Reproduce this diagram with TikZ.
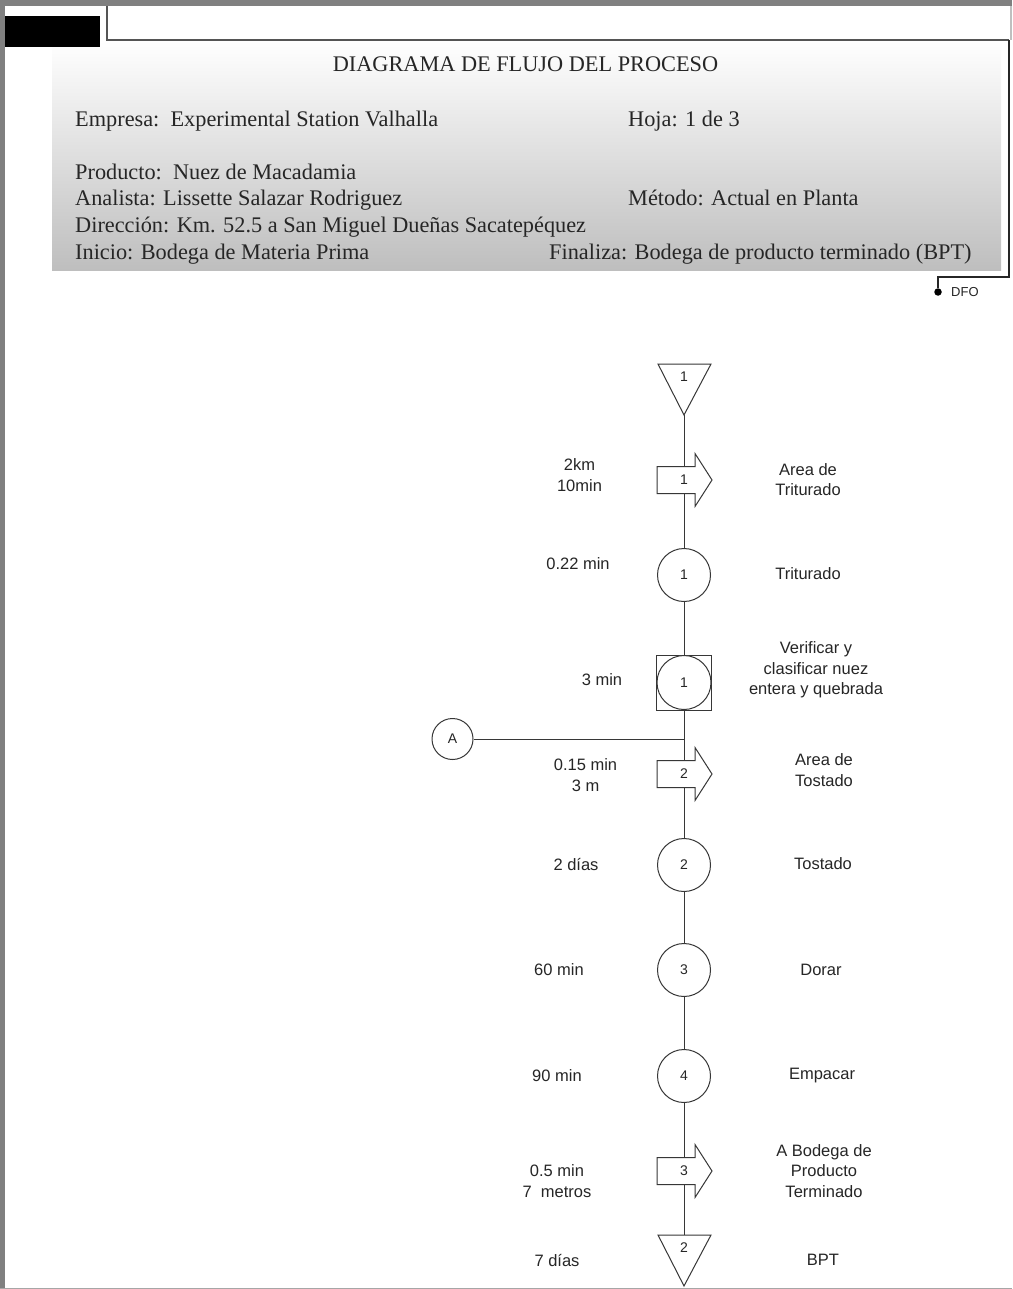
\documentclass[tikz,border=0pt]{standalone}
\usepackage{fontspec}
\setmainfont{Liberation Serif}
\newfontfamily\arialf{Liberation Sans}
\definecolor{hdrgray}{RGB}{190,190,190}
\definecolor{framegray}{RGB}{128,128,128}
\definecolor{linegray}{RGB}{55,55,55}
\definecolor{tabgray}{RGB}{85,85,85}
\begin{document}
\begin{tikzpicture}[x=1pt,y=-1pt,
  hdr/.style={anchor=base west, inner sep=0pt, text=black!85, font=\fontsize{22.3}{26}\selectfont},
  lbl/.style={align=center, inner sep=0pt, text=black!85, font=\arialf\fontsize{16.5}{20.5}\selectfont},
  num/.style={inner sep=0pt, text=black!85, font=\arialf\fontsize{14}{16}\selectfont},
  shp/.style={draw=linegray, line width=1pt, fill=white},
  conn/.style={draw=linegray, line width=1pt},
  opcirc/.style={shp, circle, minimum size=53pt, inner sep=0pt, text=black!85, font=\arialf\fontsize{14}{16}\selectfont},
  xfer/.pic={\path[shp] (-27,-13.5) -- (11,-13.5) -- (11,-26.5) -- (28,0) -- (11,26.5) -- (11,13.5) -- (-27,13.5) -- cycle;},
  store/.pic={\path[shp] (-26,0) -- (27,0) -- (0,51) -- cycle;}
]
\useasboundingbox (0,0) rectangle (1012,1289);
\fill[white] (0,0) rectangle (1012,1289);
% page frame
\fill[framegray] (0,0) rectangle (1012,6);
\fill[framegray] (0,0) rectangle (5,1289);
\fill[black!35] (0,1287.5) rectangle (1012,1289);
\fill[black!25] (1009.5,6) rectangle (1012,40);
% header
\shade[top color=white, bottom color=hdrgray] (52,41) rectangle (1001,270);
\fill[black] (5,16) rectangle (100,47);
\draw[tabgray, line width=1.3pt] (107,6) -- (107,40) -- (1009,40);
\coordinate (dfoA) at (1009,40);
\coordinate (dfoB) at (938,277);
\node[circle, fill=black, inner sep=0pt, minimum size=7.5pt] (dot) at (938,292) {};
\draw[black!85, line width=1.3pt] (dfoA) |- (dfoB) -- (dot);
\node[anchor=west, inner sep=0pt, text=black!85, font=\arialf\fontsize{13}{15}\selectfont] (dfo) at (951,292.5) {DFO};
\node[hdr, anchor=base] (title) at (525.5,72) {DIAGRAMA DE FLUJO DEL PROCESO};
\node[hdr] (emp) at (75,127) {Empresa:\ \ Experimental Station Valhalla};
\node[hdr] (hoja) at (628,127) {Hoja: 1 de 3};
\node[hdr] (prod) at (75,180) {Producto:\ \ Nuez de Macadamia};
\node[hdr] (anal) at (75,206) {Analista: Lissette Salazar Rodriguez};
\node[hdr] (met) at (628,206) {Método: Actual en Planta};
\node[hdr] (dir) at (75,233) {Dirección: Km. 52.5 a San Miguel Dueñas Sacatepéquez};
\node[hdr] (ini) at (75,259) {Inicio: Bodega de Materia Prima};
\node[hdr] (fin) at (549,259) {Finaliza: Bodega de producto terminado (BPT)};
% spine
\coordinate (t1apex) at (684,415);
\coordinate (t2top) at (684,1235);
\draw[conn] (t1apex) -- (t2top);
% A connector
\node[shp, circle, minimum size=41pt, inner sep=0pt, text=black!85, font=\arialf\fontsize{14}{16}\selectfont] (A) at (452.5,739) {A};
\coordinate (jA) at (684,739);
\draw[conn] (A) -- (jA);
% shapes
\pic at (684,364) {store};
\node[num] (t1) at (684,377) {1};
\pic at (684,480) {xfer};
\node[num] (a1) at (684,480) {1};
\node[opcirc] (o1) at (684,575) {1};
\path[shp] (656.5,655) rectangle (711.5,710);
\node[opcirc, minimum size=54pt] (c1) at (684,682.5) {1};
\pic at (684,774) {xfer};
\node[num] (a2) at (684,774) {2};
\node[opcirc] (o2) at (684,865) {2};
\node[opcirc] (o3) at (684,970) {3};
\node[opcirc] (o4) at (684,1076) {4};
\pic at (684,1171) {xfer};
\node[num] (a3) at (684,1171) {3};
\pic at (684,1235) {store};
\node[num] (t2) at (684,1248) {2};
% left labels
\node[lbl] (l1) at (579.5,475) {2km\\10min};
\node[lbl] (l2) at (578,564) {0.22 min};
\node[lbl] (l3) at (602,680) {3 min};
\node[lbl] (l4) at (585.5,775) {0.15 min\\3 m};
\node[lbl] (l5) at (576,864) {2 días};
\node[lbl] (l6) at (559,970) {60 min};
\node[lbl] (l7) at (557,1076) {90 min};
\node[lbl] (l8) at (557,1181) {0.5 min\\7\ \ metros};
\node[lbl] (l9) at (557,1260) {7 días};
% right labels
\node[lbl] (r1) at (808,479.5) {Area de\\Triturado};
\node[lbl] (r2) at (808,574) {Triturado};
\node[lbl] (r3) at (816,670) {Verificar y\\clasificar nuez\\entera y quebrada};
\node[lbl] (r4) at (824,770) {Area de\\Tostado};
\node[lbl] (r5) at (823,864) {Tostado};
\node[lbl] (r6) at (821,970) {Dorar};
\node[lbl] (r7) at (822,1076) {Empacar};
\node[lbl] (r8) at (824,1171) {A Bodega de\\Producto\\Terminado};
\node[lbl] (r9) at (823,1260) {BPT};
\end{tikzpicture}
\end{document}
